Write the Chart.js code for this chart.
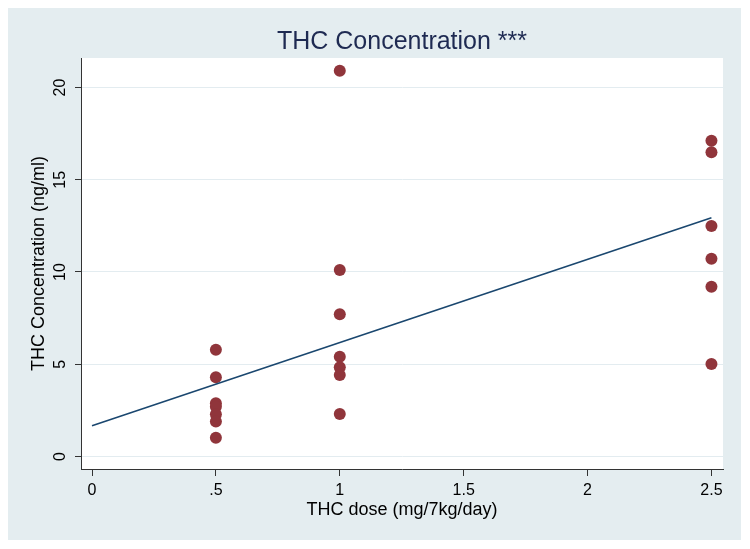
<!DOCTYPE html>
<html>
<head>
<meta charset="utf-8">
<script src="https://cdn.jsdelivr.net/npm/chart.js@4/dist/chart.umd.min.js"></script>
<style>
  html, body { margin: 0; padding: 0; background: #ffffff; }
  #wrap { width: 750px; height: 549px; }
</style>
</head>
<body>
<div id="wrap"><canvas id="c" width="750" height="549"></canvas></div>
<script>
// ---- data ----
const doseLevels = [0.5, 1, 2.5];
const concDose05 = [5.79, 4.29, 2.88, 2.70, 2.29, 1.89, 1.02];
const concDose1  = [20.91, 10.11, 7.71, 5.41, 4.83, 4.42, 2.30];
const concDose25 = [17.12, 16.49, 12.49, 10.72, 9.20, 5.01];
const fitX = [0, 2.5];
const fitY = [1.66, 12.94];
const xTickValues = [0, 0.5, 1, 1.5, 2, 2.5];
const xTickLabels = ['0', '.5', '1', '1.5', '2', '2.5'];
const yTickValues = [0, 5, 10, 15, 20];
const yTickLabels = ['0', '5', '10', '15', '20'];

const groups = [concDose05, concDose1, concDose25];
const scatterPoints = [];
groups.forEach((arr, i) => arr.forEach(v => scatterPoints.push({ x: doseLevels[i], y: v })));
const fitPoints = fitX.map((x, i) => ({ x: x, y: fitY[i] }));

const FONT = "'Liberation Sans', Arial, Helvetica, sans-serif";
Chart.defaults.font.family = FONT;

const bgPlugin = {
  id: 'bg',
  beforeDraw(chart) {
    const { ctx, chartArea } = chart;
    ctx.save();
    ctx.fillStyle = '#ffffff';
    ctx.fillRect(0, 0, chart.width, chart.height);
    ctx.fillStyle = '#e4edf0';
    ctx.fillRect(8, 8, 733, 532);
    ctx.fillStyle = '#ffffff';
    ctx.fillRect(chartArea.left, chartArea.top, chartArea.right - chartArea.left, chartArea.bottom - chartArea.top);
    ctx.restore();
  }
};

const yLabelPlugin = {
  id: 'ylabels',
  afterDraw(chart) {
    const { ctx } = chart;
    const ys = chart.scales.y;
    ctx.save();
    ctx.fillStyle = '#000000';
    ctx.font = '16px ' + FONT;
    ctx.textAlign = 'center';
    ctx.textBaseline = 'middle';
    yTickValues.forEach((v, i) => {
      const py = ys.getPixelForValue(v);
      ctx.save();
      ctx.translate(61, py);
      ctx.rotate(-Math.PI / 2);
      ctx.fillText(yTickLabels[i], 0, 0);
      ctx.restore();
    });
    ctx.restore();
  }
};

new Chart(document.getElementById('c'), {
  data: {
    datasets: [
      {
        type: 'line',
        label: 'Fitted values',
        data: fitPoints,
        borderColor: '#1a476f',
        borderWidth: 1.6,
        pointRadius: 0,
        fill: false,
        tension: 0
      },
      {
        type: 'scatter',
        label: 'THC Concentration',
        data: scatterPoints,
        backgroundColor: '#90353b',
        borderColor: '#90353b',
        borderWidth: 0,
        pointRadius: 6,
        pointHoverRadius: 6
      }
    ]
  },
  plugins: [bgPlugin, yLabelPlugin],
  options: {
    responsive: false,
    animation: false,
    devicePixelRatio: 1,
    layout: { padding: { top: 0, left: 0, right: 27, bottom: 0 } },
    plugins: {
      legend: { display: false },
      tooltip: { enabled: false },
      title: {
        display: true,
        fullSize: false,
        text: 'THC Concentration ***',
        color: '#1e2a52',
        font: { size: 25, weight: 'normal', family: FONT },
        padding: { top: 27, bottom: 1 }
      }
    },
    scales: {
      x: {
        type: 'linear',
        min: -0.0444,
        max: 2.5466,
        afterBuildTicks(scale) { scale.ticks = xTickValues.map(v => ({ value: v })); },
        afterFit(scale) { scale.height = 80; },
        ticks: {
          autoSkip: false,
          maxRotation: 0,
          minRotation: 0,
          padding: 5,
          color: '#000000',
          font: { size: 16, family: FONT },
          callback(v) { const i = xTickValues.indexOf(v); return i >= 0 ? xTickLabels[i] : ''; }
        },
        grid: { drawOnChartArea: false, drawTicks: true, tickLength: 7, tickColor: '#333333' },
        border: { display: true, color: '#333333', width: 1 },
        title: {
          display: true,
          text: 'THC dose (mg/7kg/day)',
          color: '#000000',
          font: { size: 18, family: FONT },
          padding: { top: 0, bottom: 28 }
        }
      },
      y: {
        type: 'linear',
        min: -0.68,
        max: 21.6,
        afterBuildTicks(scale) { scale.ticks = yTickValues.map(v => ({ value: v })); },
        afterFit(scale) { scale.width = 81; },
        ticks: { display: false },
        grid: { color: '#e3ecf0', lineWidth: 1, drawTicks: true, tickLength: 6, tickColor: '#333333' },
        border: { display: true, color: '#333333', width: 1 },
        title: {
          display: true,
          text: 'THC Concentration (ng/ml)',
          color: '#000000',
          font: { size: 18, family: FONT },
          padding: { top: 28, bottom: 0 }
        }
      }
    }
  }
});
</script>
</body>
</html>
